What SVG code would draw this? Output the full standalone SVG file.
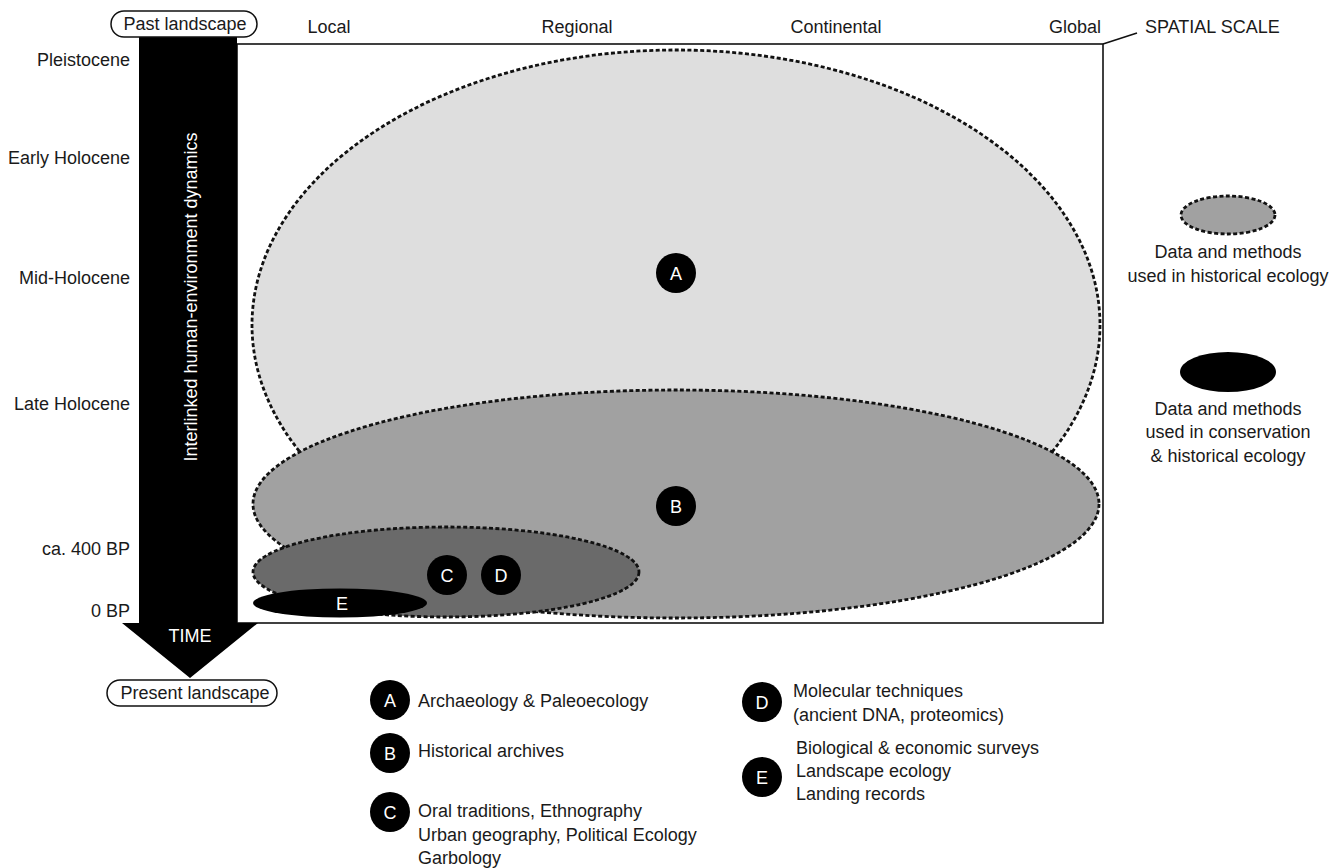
<svg xmlns="http://www.w3.org/2000/svg" width="1342" height="868" viewBox="0 0 1342 868">
<defs>
<style>
text{font-family:"Liberation Sans",Arial,sans-serif;font-size:18px;fill:#1a1a1a}
.w{fill:#fff}
.mid{text-anchor:middle}
.end{text-anchor:end}
.dot{stroke:#111;stroke-width:2.8;stroke-dasharray:4 2.4}
.pill{fill:#fff;stroke:#111;stroke-width:1.5}
.badge{fill:#000}
</style>
</defs>
<rect width="1342" height="868" fill="#fff"/>

<g id="frame">
<rect x="237" y="44" width="866" height="579" fill="#fff" stroke="#111" stroke-width="1.6"/>
</g>

<g id="ellipse-A">
<ellipse cx="676" cy="325" rx="424" ry="275" fill="#dedede" class="dot"/>
</g>
<g id="ellipse-B">
<ellipse cx="676" cy="504" rx="423" ry="114" fill="#a1a1a1" class="dot"/>
</g>
<g id="ellipse-C">
<ellipse cx="446" cy="572" rx="193" ry="45" fill="#6a6a6a" class="dot"/>
</g>
<g id="ellipse-E">
<ellipse cx="340" cy="603" rx="87" ry="14.5" fill="#000"/>
<text x="342" y="609.5" class="w mid" font-size="17">E</text>
</g>

<g id="badge-A"><circle cx="676" cy="273" r="20" class="badge"/><text x="676" y="279.5" class="w mid" font-size="17">A</text></g>
<g id="badge-B"><circle cx="676" cy="506" r="20" class="badge"/><text x="676" y="512.5" class="w mid" font-size="17">B</text></g>
<g id="badge-C"><circle cx="447" cy="575" r="20" class="badge"/><text x="447" y="581.5" class="w mid" font-size="17">C</text></g>
<g id="badge-D"><circle cx="501" cy="575" r="20" class="badge"/><text x="501" y="581.5" class="w mid" font-size="17">D</text></g>

<g id="time-arrow">
<path d="M139 37 H237 V623 H258 L190 678 L122 623 H139 Z" fill="#000"/>
<text transform="translate(197 297) rotate(-90)" class="w mid" font-size="18.6">Interlinked human-environment dynamics</text>
<text x="190" y="642" class="w mid" font-size="17">TIME</text>
</g>

<g id="past-landscape">
<rect x="111" y="11" width="146" height="26" rx="13" class="pill"/>
<text x="185" y="30" class="mid" font-size="18.5">Past landscape</text>
</g>
<g id="present-landscape">
<rect x="107" y="680" width="170" height="26" rx="13" class="pill"/>
<text x="195" y="699" class="mid" font-size="18.5">Present landscape</text>
</g>

<g id="time-labels">
<text x="130" y="66" class="end">Pleistocene</text>
<text x="130" y="164" class="end">Early Holocene</text>
<text x="130" y="284" class="end">Mid-Holocene</text>
<text x="130" y="410" class="end">Late Holocene</text>
<text x="130" y="555" class="end">ca. 400 BP</text>
<text x="130" y="617" class="end">0 BP</text>
</g>

<g id="scale-labels">
<text x="329" y="33" class="mid" font-size="17.5">Local</text>
<text x="577" y="33" class="mid" font-size="17.5">Regional</text>
<text x="836" y="33" class="mid" font-size="17.5">Continental</text>
<text x="1075" y="33" class="mid" font-size="17.5">Global</text>
<text x="1145" y="33" font-size="17">SPATIAL SCALE</text>
</g>

<g id="connectors">
<line x1="1103" y1="44" x2="1137" y2="33" stroke="#111" stroke-width="1.6"/>
</g>

<g id="legend-historical">
<ellipse cx="1228" cy="215" rx="47" ry="19" fill="#a1a1a1" class="dot"/>
<text x="1228" y="258" class="mid">Data and methods</text>
<text x="1228" y="282" class="mid">used in historical ecology</text>
</g>
<g id="legend-conservation">
<ellipse cx="1228" cy="372" rx="48" ry="20" fill="#000"/>
<text x="1228" y="415" class="mid">Data and methods</text>
<text x="1228" y="438" class="mid">used in conservation</text>
<text x="1228" y="462" class="mid">&amp; historical ecology</text>
</g>

<g id="key-A"><circle cx="390" cy="700" r="20" class="badge"/><text x="390" y="706.5" class="w mid" font-size="17">A</text><text x="418" y="707">Archaeology &amp; Paleoecology</text></g>
<g id="key-B"><circle cx="390" cy="753" r="20" class="badge"/><text x="390" y="759.5" class="w mid" font-size="17">B</text><text x="418" y="757">Historical archives</text></g>
<g id="key-C"><circle cx="390" cy="812" r="20" class="badge"/><text x="390" y="818.5" class="w mid" font-size="17">C</text>
<text x="418" y="817">Oral traditions, Ethnography</text>
<text x="418" y="841">Urban geography, Political Ecology</text>
<text x="418" y="864">Garbology</text></g>
<g id="key-D"><circle cx="762" cy="702" r="20" class="badge"/><text x="762" y="708.5" class="w mid" font-size="17">D</text>
<text x="793" y="697">Molecular techniques</text>
<text x="793" y="721">(ancient DNA, proteomics)</text></g>
<g id="key-E"><circle cx="762" cy="777" r="20" class="badge"/><text x="762" y="783.5" class="w mid" font-size="17">E</text>
<text x="796" y="754">Biological &amp; economic surveys</text>
<text x="796" y="777">Landscape ecology</text>
<text x="796" y="800">Landing records</text></g>
</svg>
